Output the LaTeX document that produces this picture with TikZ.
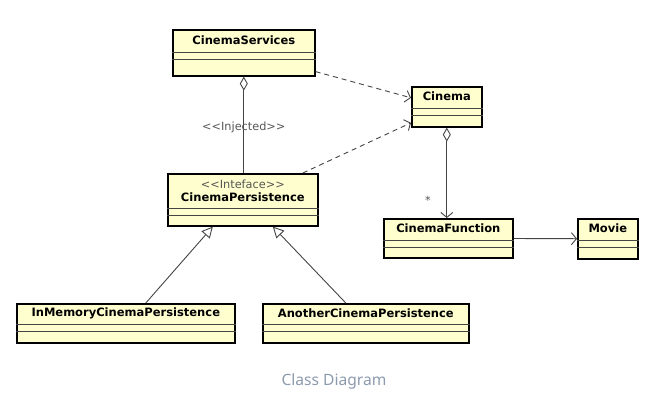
\documentclass[tikz,border=0pt]{standalone}
\usepackage{fontspec}
\newfontfamily\umlfont{DejaVu Sans}
\newfontfamily\captionfont{Noto Sans}
\usepackage{xcolor}
\usetikzlibrary{arrows.meta,positioning,calc}

\definecolor{classfill}{HTML}{FEFECE}
\definecolor{linkgray}{HTML}{444444}
\definecolor{stereogray}{HTML}{555555}
\definecolor{captiongray}{HTML}{8C9AAE}

\tikzset{
  classbox/.style={draw=black, line width=1.6bp, fill=classfill, inner sep=0pt},
  compline/.style={draw=linkgray, line width=0.8bp},
  classname/.style={font=\umlfont\bfseries\fontsize{11.5bp}{13bp}\selectfont, inner sep=0pt},
  stereo/.style={font=\umlfont\fontsize{11.3bp}{13bp}\selectfont, text=stereogray, inner sep=0pt},
  link/.style={draw=linkgray, line width=0.9bp},
  depend/.style={link, dash pattern=on 5bp off 4bp, -{Straight Barb[length=5bp,width=12bp]}},
  navig/.style={link, -{Straight Barb[length=5bp,width=12bp]}},
  aggr/.style={link, {Diamond[fill=white,length=14bp,width=8bp]}-},
  aggrnav/.style={link, {Diamond[fill=white,length=14bp,width=8bp]}-{Straight Barb[length=5bp,width=12bp]}},
  inherit/.style={link, -{Triangle[fill=white,length=11bp,width=11bp]}}
}

% name, x, y, width, height, bottom compartment, title
\newcommand{\umlclass}[7]{%
  \node[classbox, anchor=north west, minimum width=#4bp, minimum height=#5bp] (#1) at (#2,#3) {};
  \draw[compline] ($(#1.south west)+(0,-#6)$) -- ($(#1.south east)+(0,-#6)$);
  \draw[compline] ($(#1.south west)+(0,-#6-7)$) -- ($(#1.south east)+(0,-#6-7)$);
  \node[classname] (#1-name) at ($(#1.north)+(0,{(#5-#6-7)/2})$) {#7};
}

\begin{document}
\begin{tikzpicture}[x=1bp, y=-1bp]
    \useasboundingbox (0,0) rectangle (660,414);

    % Classes
    \umlclass{services}{172}{29}{142}{46}{17}{CinemaServices}
    \umlclass{cinema}{411}{86}{70}{40}{12}{Cinema}
    \umlclass{persistence}{167}{173}{150}{52}{11}{}
    \umlclass{function}{383}{218}{129}{39}{11}{CinemaFunction}
    \umlclass{movie}{577}{218}{60}{40}{12}{Movie}
    \umlclass{inmemory}{16}{303}{218}{39}{12}{InMemoryCinemaPersistence}
    \umlclass{another}{262}{303}{206}{39}{12}{AnotherCinemaPersistence}

    % Interface title
    \node[stereo] (persistence-stereo) at ($(persistence.north)+(0,11)$) {<{}<Inteface>{}>};
    \node[classname] (persistence-title) at ($(persistence.north)+(0,24)$) {CinemaPersistence};

    % Aggregations
    \draw[aggr] (services.south) -- (services.south |- persistence.north)
        node[stereo, pos=0.53] (injected) {<{}<Injected>{}>};
    \draw[aggrnav] (cinema.south) -- (cinema.south |- function.north);
    \node[stereo] (many) at (428,200) {*};

    % Dependencies
    \coordinate (svc-out) at ($(services.south east)+(0,-5)$);
    \coordinate (per-out) at ($(persistence.north)+(60,0)$);
    \draw[depend] (svc-out) -- ($(cinema.west)+(0,-9)$);
    \draw[depend] (per-out) -- ($(cinema.west)+(0,16)$);

    % Association
    \draw[navig] (function) -- (movie);

    % Realisations
    \draw[inherit] ($(inmemory.north)+(20,0)$) -- ($(persistence.south)+(-30,0)$);
    \draw[inherit] ($(another.north)+(-20,0)$) -- ($(persistence.south)+(30,0)$);

    \node[font=\captionfont\fontsize{15.6bp}{18bp}\selectfont, text=captiongray] (caption) at (334,381) {Class Diagram};
\end{tikzpicture}
\end{document}
